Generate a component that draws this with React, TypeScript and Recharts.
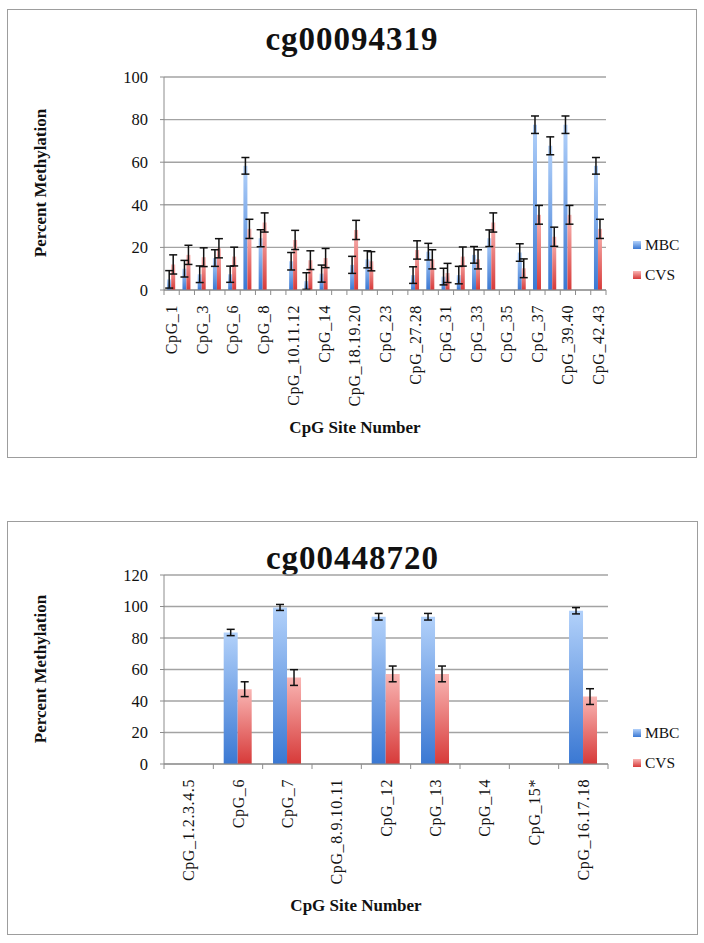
import React from 'react';
import { BarChart, Bar, XAxis, YAxis, CartesianGrid, ErrorBar, Legend } from 'recharts';

// cg00094319 panel
const sitesTop = [
  'CpG_1', 'CpG_2', 'CpG_3', 'CpG_4.5', 'CpG_6', 'CpG_7', 'CpG_8', 'CpG_9',
  'CpG_10.11.12', 'CpG_13', 'CpG_14', 'CpG_15.16.17', 'CpG_18.19.20', 'CpG_21.22',
  'CpG_23', 'CpG_24.25.26', 'CpG_27.28', 'CpG_29.30', 'CpG_31', 'CpG_32', 'CpG_33',
  'CpG_34', 'CpG_35', 'CpG_36', 'CpG_37', 'CpG_38', 'CpG_39.40', 'CpG_41', 'CpG_42.43',
];
const mbcTop = [5, 10, 7.4, 15, 7.4, 58.3, 24.3, null, 13.5, 4.2, 7.7, null, 11.8, 14.4,
  null, null, 7, 18, 6.3, 7, 16.5, 24.3, null, 17.6, 77.6, 67.7, 77.6, null, 58.3];
const mbcErrTop = [4.1, 3.9, 3.9, 3.9, 3.8, 3.9, 4, null, 4.1, 3.9, 4, null, 4, 4,
  null, null, 3.9, 3.9, 3.9, 4.1, 3.9, 3.9, null, 4.1, 4.1, 4.2, 4.1, null, 3.9];
const cvsTop = [12, 16.5, 15.4, 19.6, 15.7, 28.7, 31.7, null, 23.5, 14, 15, null, 28.2, 13.5,
  null, null, 18.8, 14.4, 8, 15.7, 14.4, 31.7, null, 10.2, 35.3, 25, 35.3, null, 28.7];
const cvsErrTop = [4.5, 4.5, 4.4, 4.5, 4.4, 4.5, 4.5, null, 4.5, 4.4, 4.5, null, 4.5, 4.5,
  null, null, 4.3, 4.5, 4.5, 4.5, 4.5, 4.5, null, 4.4, 4.4, 4.5, 4.4, null, 4.5];
const yTicksTop = [0, 20, 40, 60, 80, 100];

// cg00448720 panel
const sitesBottom = [
  'CpG_1.2.3.4.5', 'CpG_6', 'CpG_7', 'CpG_8.9.10.11', 'CpG_12', 'CpG_13', 'CpG_14',
  'CpG_15*', 'CpG_16.17.18',
];
const mbcBottom = [null, 83.5, 99.4, null, 93.5, 93.5, null, null, 97.3];
const mbcErrBottom = [null, 2, 1.9, null, 2.1, 2.1, null, null, 2];
const cvsBottom = [null, 47.5, 54.9, null, 57.2, 57.2, null, null, 42.8];
const cvsErrBottom = [null, 4.7, 5, null, 5, 5, null, null, 5];
const yTicksBottom = [0, 20, 40, 60, 80, 100, 120];

const seriesNames = ['MBC', 'CVS'];

const SERIF = '"Liberation Serif", serif';
const GRID = '#a3a3a3';
const AXIS = '#8c8c8c';
const INK = '#111';

const gradStops: Record<string, [string, string]> = {
  MBC: ['#b2d1fa', '#3a78d3'],
  CVS: ['#f9b6b4', '#d73a39'],
};

const buildRows = (
  sites: string[],
  mbc: (number | null)[],
  mbcErr: (number | null)[],
  cvs: (number | null)[],
  cvsErr: (number | null)[]
) =>
  sites.map((site, i) => ({
    site,
    MBC: mbc[i],
    MBCerr: mbcErr[i] ?? undefined,
    CVS: cvs[i],
    CVSerr: cvsErr[i] ?? undefined,
  }));

const SiteTick = (props: any) => {
  const { x, y, payload, index, every, last } = props;
  const half = payload?.offset ?? 0;
  const ly = y + 15;
  return (
    <g>
      <line x1={x - half} x2={x - half} y1={y} y2={y + 5} stroke={AXIS} />
      {index === last && <line x1={x + half} x2={x + half} y1={y} y2={y + 5} stroke={AXIS} />}
      {index % every === 0 && (
        <text
          x={x}
          y={ly}
          transform={`rotate(-90 ${x} ${ly})`}
          textAnchor="end"
          dominantBaseline="central"
          fontSize={16}
          letterSpacing={0.6}
          fontFamily={SERIF}
          fill={INK}
        >
          {payload.value}
        </text>
      )}
    </g>
  );
};

const LegendBox = () => (
  <div style={{ fontFamily: SERIF, fontSize: 15.5, color: INK }}>
    {seriesNames.map((name) => (
      <div key={name} style={{ display: 'flex', alignItems: 'center', height: 30 }}>
        <span
          style={{
            width: 8,
            height: 8,
            marginRight: 4,
            background: `linear-gradient(${gradStops[name][0]}, ${gradStops[name][1]})`,
          }}
        />
        {name}
      </div>
    ))}
  </div>
);

interface PanelProps {
  id: string;
  title: string;
  rows: any[];
  yTicks: number[];
  every: number;
  box: { left: number; top: number; width: number; height: number };
  margin: { top: number; right: number; bottom: number; left: number };
  titleTop: number;
  yLabel: { x: number; y: number };
  xLabel: { x: number; y: number };
  legendTop: number;
}

const Panel = ({ id, title, rows, yTicks, every, box, margin, titleTop, yLabel, xLabel, legendTop }: PanelProps) => {
  const w = box.width - 2;
  const h = box.height - 2;
  return (
    <div
      style={{
        position: 'absolute',
        left: box.left,
        top: box.top,
        width: box.width,
        height: box.height,
        boxSizing: 'border-box',
        border: '1px solid #9d9d9d',
        background: '#fff',
      }}
    >
      <div
        style={{
          position: 'absolute',
          left: 0,
          top: titleTop,
          width: w,
          textAlign: 'center',
          fontFamily: SERIF,
          fontWeight: 'bold',
          fontSize: 33,
          letterSpacing: 1,
          lineHeight: 1,
          color: INK,
        }}
      >
        {title}
      </div>
      <div
        style={{
          position: 'absolute',
          left: yLabel.x,
          top: yLabel.y,
          transform: 'translate(-50%, -50%) rotate(-90deg)',
          whiteSpace: 'nowrap',
          fontFamily: SERIF,
          fontWeight: 'bold',
          fontSize: 17,
          lineHeight: 1,
          color: INK,
        }}
      >
        Percent Methylation
      </div>
      <div
        style={{
          position: 'absolute',
          left: xLabel.x,
          top: xLabel.y,
          transform: 'translate(-50%, -50%)',
          whiteSpace: 'nowrap',
          fontFamily: SERIF,
          fontWeight: 'bold',
          fontSize: 17,
          lineHeight: 1,
          color: INK,
        }}
      >
        CpG Site Number
      </div>
      <BarChart
        width={w}
        height={h}
        data={rows}
        margin={margin}
        barCategoryGap="21%"
        barGap={0}
        style={{ position: 'absolute', left: 0, top: 0 }}
      >
        <defs>
          {seriesNames.map((name) => (
            <linearGradient key={name} id={`${id}-${name}`} x1="0" y1="0" x2="0" y2="1">
              <stop offset="0%" stopColor={gradStops[name][0]} />
              <stop offset="100%" stopColor={gradStops[name][1]} />
            </linearGradient>
          ))}
        </defs>
        <CartesianGrid vertical={false} stroke={GRID} strokeWidth={1.4} />
        <XAxis
          dataKey="site"
          interval={0}
          height={100}
          tickLine={false}
          tickSize={0}
          tickMargin={0}
          axisLine={{ stroke: AXIS }}
          tick={(p: any) => <SiteTick {...p} every={every} last={rows.length - 1} />}
        />
        <YAxis
          width={96}
          domain={[0, yTicks[yTicks.length - 1]]}
          ticks={yTicks}
          interval={0}
          tickSize={4}
          tickMargin={12}
          axisLine={{ stroke: AXIS }}
          tickLine={{ stroke: AXIS }}
          tick={{ fontSize: 16.5, fontFamily: SERIF, fill: INK }}
        />
        <Legend
          layout="vertical"
          verticalAlign="top"
          align="left"
          wrapperStyle={{ left: 625, top: legendTop, width: 60 }}
          content={() => <LegendBox />}
        />
        {seriesNames.map((name) => (
          <Bar key={name} dataKey={name} fill={`url(#${id}-${name})`} isAnimationActive={false}>
            <ErrorBar dataKey={`${name}err`} width={4} stroke={INK} strokeWidth={1.5} direction="y" />
          </Bar>
        ))}
      </BarChart>
    </div>
  );
};

export default function App() {
  const rowsTop = buildRows(sitesTop, mbcTop, mbcErrTop, cvsTop, cvsErrTop);
  const rowsBottom = buildRows(sitesBottom, mbcBottom, mbcErrBottom, cvsBottom, cvsErrBottom);
  return (
    <div style={{ position: 'absolute', left: 0, top: 0, width: 704, height: 943, background: '#fff' }}>
      <Panel
        id="top"
        title="cg00094319"
        rows={rowsTop}
        yTicks={yTicksTop}
        every={2}
        box={{ left: 7, top: 9, width: 690, height: 449 }}
        margin={{ top: 67, right: 90, bottom: 67, left: 0 }}
        titleTop={13}
        yLabel={{ x: 32, y: 173 }}
        xLabel={{ x: 347, y: 417 }}
        legendTop={220}
      />
      <Panel
        id="bottom"
        title="cg00448720"
        rows={rowsBottom}
        yTicks={yTicksBottom}
        every={1}
        box={{ left: 7, top: 521, width: 691, height: 414 }}
        margin={{ top: 53, right: 89, bottom: 70, left: 0 }}
        titleTop={20}
        yLabel={{ x: 32, y: 147 }}
        xLabel={{ x: 348, y: 383 }}
        legendTop={196}
      />
    </div>
  );
}
